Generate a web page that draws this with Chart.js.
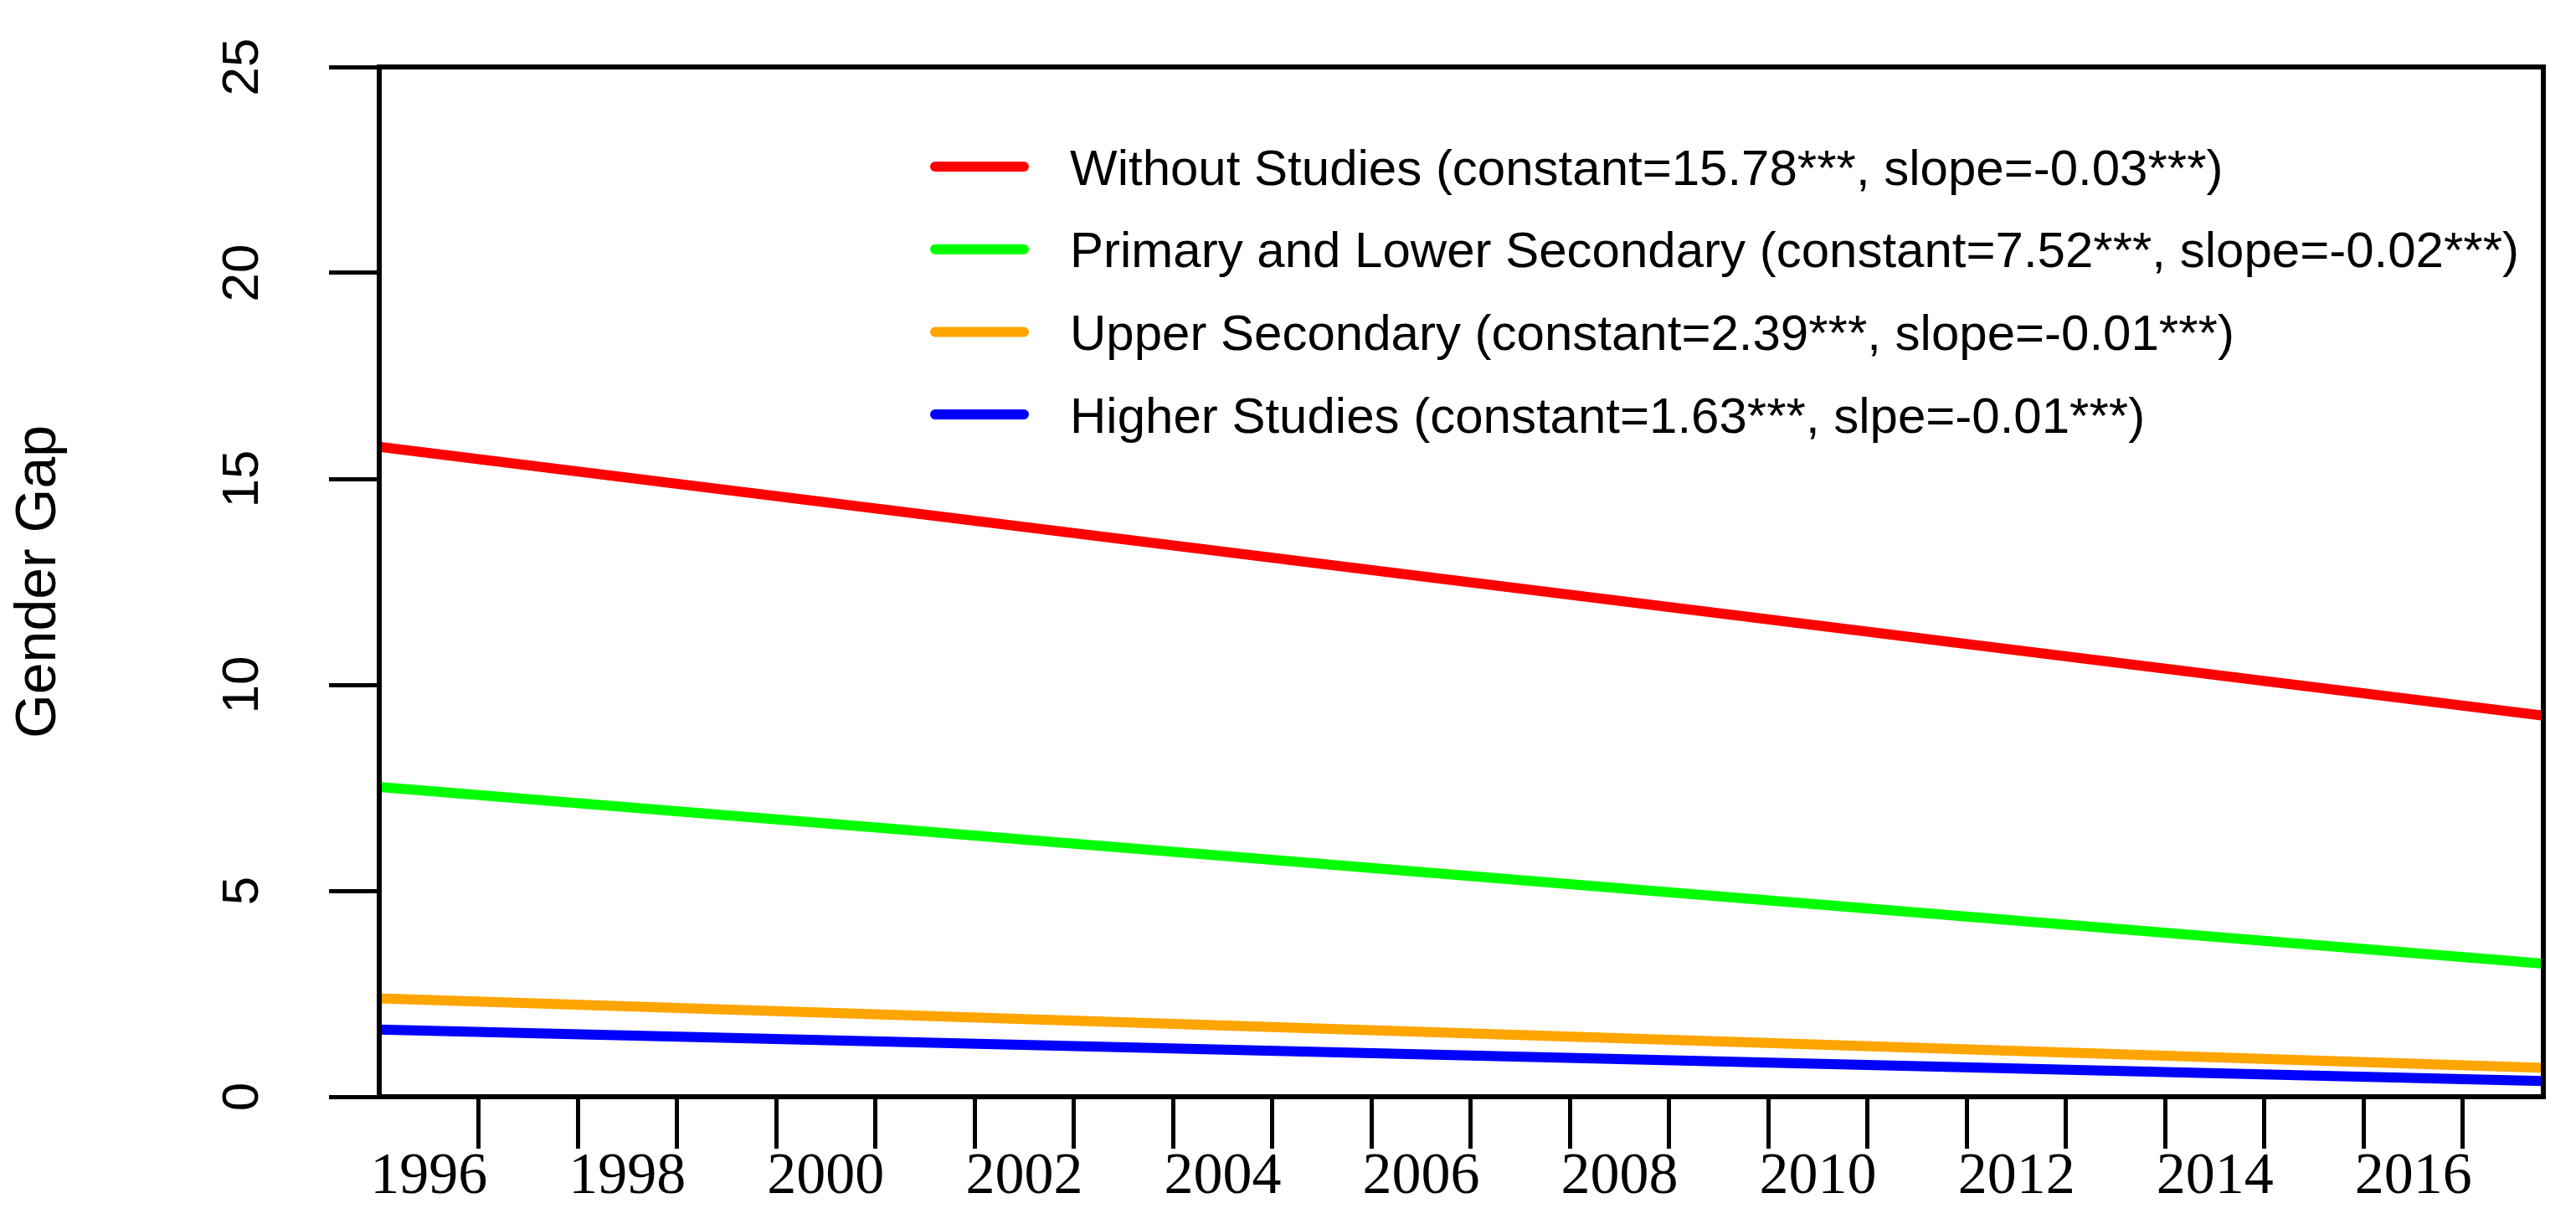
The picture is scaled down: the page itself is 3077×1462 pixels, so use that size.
<!DOCTYPE html>
<html>
<head>
<meta charset="utf-8">
<title>Gender Gap</title>
<script src="https://cdn.jsdelivr.net/npm/chart.js@4.4.1/dist/chart.umd.min.js"></script>
<style>
  html, body { margin: 0; padding: 0; background: #fff; }
  #wrap { width: 3077px; height: 1462px; }
</style>
</head>
<body>
<div id="wrap"><canvas id="gapChart"></canvas></div>
<script>
// x range of the plot (the fitted lines run across the whole panel)
var xRange = [1995.5, 2017.31];

var seriesNames = [
    "Without Studies (constant=15.78***, slope=-0.03***)",
    "Primary and Lower Secondary (constant=7.52***, slope=-0.02***)",
    "Upper Secondary (constant=2.39***, slope=-0.01***)",
    "Higher Studies (constant=1.63***, slpe=-0.01***)"
];
// values at the left and right edge of the panel
var withoutStudies = [15.78, 9.25];
var primaryLowerSecondary = [7.52, 3.23];
var upperSecondary = [2.39, 0.70];
var higherStudies = [1.63, 0.38];
var lineColors = ["#FF0000", "#00FF00", "#FFA500", "#0000FF"];

var yearLabels = [1996, 1998, 2000, 2002, 2004, 2006, 2008, 2010, 2012, 2014, 2016];
var yTicks = [0, 5, 10, 15, 20, 25];

var sans = "'Liberation Sans', Arial, sans-serif";
var serif = "'Liberation Serif', 'Times New Roman', serif";

// tick marks sit half way between the year labels
var tickMarks = [];
for (var t = yearLabels[0] + 0.5; t <= yearLabels[yearLabels.length - 1] + 0.5; t++) {
    tickMarks.push(t);
}
var isMark = function (v) { return Math.abs((v % 1) - 0.5) < 1e-6; };

var series = [withoutStudies, primaryLowerSecondary, upperSecondary, higherStudies];
var datasets = series.map(function (vals, i) {
    return {
        label: seriesNames[i],
        data: vals.map(function (v, j) { return { x: xRange[j], y: v }; }),
        borderColor: lineColors[i],
        backgroundColor: lineColors[i],
        borderWidth: 12,
        pointRadius: 0,
        tension: 0,
        fill: false,
        clip: 0
    };
});

// frame around the panel and the legend inside it
var boxAndLegend = {
    id: 'boxAndLegend',
    afterDatasetsDraw: function (chart) {
        var ctx = chart.ctx, a = chart.chartArea;
        ctx.save();
        ctx.strokeStyle = '#000';
        ctx.lineWidth = 6;
        ctx.strokeRect(a.left, a.top, a.right - a.left, a.bottom - a.top);

        ctx.font = '60px ' + sans;
        ctx.textBaseline = 'middle';
        ctx.lineCap = 'round';
        chart.data.datasets.forEach(function (ds, i) {
            var y = a.top + 119 + i * 98.7;
            ctx.strokeStyle = ds.borderColor;
            ctx.lineWidth = 12;
            ctx.beginPath();
            ctx.moveTo(a.left + 664, y);
            ctx.lineTo(a.left + 770, y);
            ctx.stroke();
            ctx.fillStyle = '#000';
            ctx.fillText(ds.label, a.left + 825, y + 5);
        });
        ctx.restore();
    }
};

Chart.defaults.color = '#000';

new Chart("gapChart", {
    type: "line",
    data: { datasets: datasets },
    options: {
        responsive: true,
        maintainAspectRatio: false,
        devicePixelRatio: 1,
        animation: false,
        events: [],
        layout: { padding: { top: 80, right: 39, left: 0, bottom: 0 } },
        plugins: {
            legend: { display: false },
            tooltip: { enabled: false }
        },
        scales: {
            x: {
                type: 'linear',
                min: xRange[0],
                max: xRange[1],
                afterBuildTicks: function (scale) {
                    var vals = yearLabels.concat(tickMarks).sort(function (a, b) { return a - b; });
                    scale.ticks = vals.map(function (v) { return { value: v }; });
                },
                afterFit: function (scale) {
                    scale.height = 152;
                    scale.paddingLeft = 0;
                    scale.paddingRight = 0;
                },
                border: { display: false },
                grid: {
                    drawOnChartArea: false,
                    drawTicks: true,
                    tickLength: 62,
                    tickWidth: 5,
                    tickColor: function (c) {
                        return c.tick && isMark(c.tick.value) ? '#000' : 'rgba(0,0,0,0)';
                    }
                },
                ticks: {
                    autoSkip: false,
                    maxRotation: 0,
                    minRotation: 0,
                    padding: 0,
                    font: { family: serif, size: 70, lineHeight: 1 },
                    callback: function (v) {
                        return yearLabels.indexOf(v) >= 0 ? String(v) : '';
                    }
                }
            },
            y: {
                min: 0,
                max: 25,
                afterBuildTicks: function (scale) {
                    scale.ticks = yTicks.map(function (v) { return { value: v }; });
                },
                afterFit: function (scale) {
                    scale.width = 453;
                    scale.paddingTop = 0;
                    scale.paddingBottom = 0;
                },
                border: { display: false },
                grid: {
                    drawOnChartArea: false,
                    tickLength: 60,
                    tickWidth: 5,
                    tickColor: '#000'
                },
                ticks: {
                    minRotation: 90,
                    maxRotation: 90,
                    crossAlign: 'center',
                    padding: 68,
                    font: { family: sans, size: 62, lineHeight: 1 }
                },
                title: {
                    display: true,
                    text: 'Gender Gap',
                    font: { family: sans, size: 68, lineHeight: 1 },
                    padding: { top: 13, bottom: 0 }
                }
            }
        }
    },
    plugins: [boxAndLegend]
});
</script>
</body>
</html>
